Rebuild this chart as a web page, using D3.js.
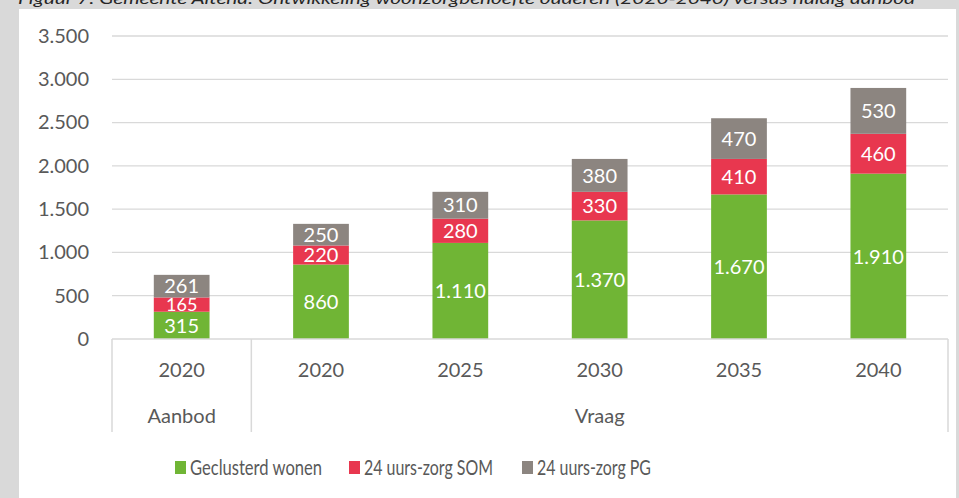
<!DOCTYPE html>
<html><head><meta charset="utf-8">
<script src="https://cdn.jsdelivr.net/npm/d3@7"></script>
<style>
html,body{margin:0;padding:0;background:#d9d9d9;}
svg{display:block;font-family:Lato,"Open Sans",sans-serif;}
</style></head>
<body>
<svg id="chart" width="959" height="498"></svg>
<script>
const title = "Figuur 7: Gemeente Altena: Ontwikkeling woonzorgbehoefte ouderen (2020-2040) versus huidig aanbod";
const years = ["2020", "2020", "2025", "2030", "2035", "2040"];
const groups = ["Aanbod", "Vraag", "Vraag", "Vraag", "Vraag", "Vraag"];
const seriesNames = ["Geclusterd wonen", "24 uurs-zorg SOM", "24 uurs-zorg PG"];
const geclusterd = [315, 860, 1110, 1370, 1670, 1910];
const som = [165, 220, 280, 330, 410, 460];
const pg = [261, 250, 310, 380, 470, 530];
const yTicks = [0, 500, 1000, 1500, 2000, 2500, 3000, 3500];
const colors = ["#70b535", "#e8374f", "#8c8580"];

const svg = d3.select("#chart");
const W = 959, H = 498;
const margin = {left: 112, right: 11, top: 36, bottom: 159};
const x0 = margin.left, x1 = W - margin.right;
const yTop = margin.top, yBot = H - margin.bottom;

// white panel
svg.append("rect").attr("x", 19).attr("y", 9).attr("width", 937).attr("height", H - 9).attr("fill", "#fff");
// cut-off title
svg.append("text").attr("x", 18).attr("y", 4).attr("font-style", "italic").attr("font-size", 16)
  .attr("fill", "#262626").attr("textLength", 897).attr("lengthAdjust", "spacingAndGlyphs").text(title);

const loc = d3.formatLocale({decimal: ",", thousands: ".", grouping: [3], currency: ["€", ""]});
const fmt = loc.format(",");

const keys = years.map((y, i) => i);
const x = d3.scaleBand().domain(keys).range([x0, x1]).paddingInner(0.6).paddingOuter(0.3);
const y = d3.scaleLinear().domain([0, 3500]).range([yBot, yTop]);

// gridlines
svg.append("g").selectAll("line").data(yTicks.filter(d => d > 0)).join("line")
  .attr("x1", x0).attr("x2", x1).attr("y1", d => y(d)).attr("y2", d => y(d))
  .attr("stroke", "#d9d9d9").attr("stroke-width", 1.3);

// y axis labels
const yAxis = d3.axisLeft(y).tickValues(yTicks).tickFormat(fmt).tickSize(0).tickPadding(23);
const ya = svg.append("g").attr("transform", `translate(${x0},0)`).call(yAxis);
ya.select(".domain").remove();
ya.selectAll("text").attr("font-size", 20).attr("fill", "#595959").attr("font-family", "Lato,'Open Sans',sans-serif");

// stacked bars
const rows = keys.map(i => ({i, g: geclusterd[i], s: som[i], p: pg[i]}));
const stack = d3.stack().keys(["g", "s", "p"])(rows);
const layers = svg.append("g").selectAll("g").data(stack).join("g").attr("fill", (d, k) => colors[k]);
layers.selectAll("rect").data(d => d).join("rect")
  .attr("x", d => x(d.data.i)).attr("width", x.bandwidth())
  .attr("y", d => y(d[1])).attr("height", d => y(d[0]) - y(d[1]));
layers.selectAll("text").data(d => d).join("text")
  .attr("x", d => x(d.data.i) + x.bandwidth() / 2)
  .attr("y", d => (y(d[0]) + y(d[1])) / 2)
  .attr("dy", "0.36em").attr("text-anchor", "middle")
  .attr("font-size", d => (y(d[0]) - y(d[1])) < 16 ? 18 : 20).attr("fill", "#fff")
  .text(d => fmt(d[1] - d[0]));

// x axis line
svg.append("line").attr("x1", x0).attr("x2", x1).attr("y1", yBot).attr("y2", yBot)
  .attr("stroke", "#d9d9d9").attr("stroke-width", 1.5);
const step = x.step();
const axisBottom = 432;
// group boundaries
const bounds = [0];
groups.forEach((g, i) => { if (i > 0 && g !== groups[i - 1]) bounds.push(i); });
bounds.push(groups.length);
svg.append("g").selectAll("line").data(bounds).join("line")
  .attr("x1", b => x0 + b * step).attr("x2", b => x0 + b * step)
  .attr("y1", yBot).attr("y2", axisBottom).attr("stroke", "#d9d9d9").attr("stroke-width", 1.5);

// year labels
svg.append("g").selectAll("text").data(keys).join("text")
  .attr("x", i => x(i) + x.bandwidth() / 2).attr("y", 377)
  .attr("text-anchor", "middle").attr("font-size", 20).attr("fill", "#595959")
  .text(i => years[i]);
// group labels
const groupSpans = [];
for (let k = 0; k < bounds.length - 1; k++) groupSpans.push({name: groups[bounds[k]], a: bounds[k], b: bounds[k + 1]});
svg.append("g").selectAll("text").data(groupSpans).join("text")
  .attr("x", d => x0 + (d.a + d.b) / 2 * step).attr("y", 423)
  .attr("text-anchor", "middle").attr("font-size", 20).attr("fill", "#595959")
  .text(d => d.name);

// legend
const legX = [175, 349, 522];
const legW = [132, 129, 114];
const leg = svg.append("g").selectAll("g").data(seriesNames).join("g")
  .attr("transform", (d, k) => `translate(${legX[k]},461)`);
leg.append("rect").attr("width", 11).attr("height", 13).attr("fill", (d, k) => colors[k]);
leg.append("text").attr("x", 15).attr("y", 14).attr("font-size", 21).attr("fill", "#595959")
  .attr("textLength", (d, k) => legW[k]).attr("lengthAdjust", "spacingAndGlyphs").text(d => d);
</script>
</body></html>
